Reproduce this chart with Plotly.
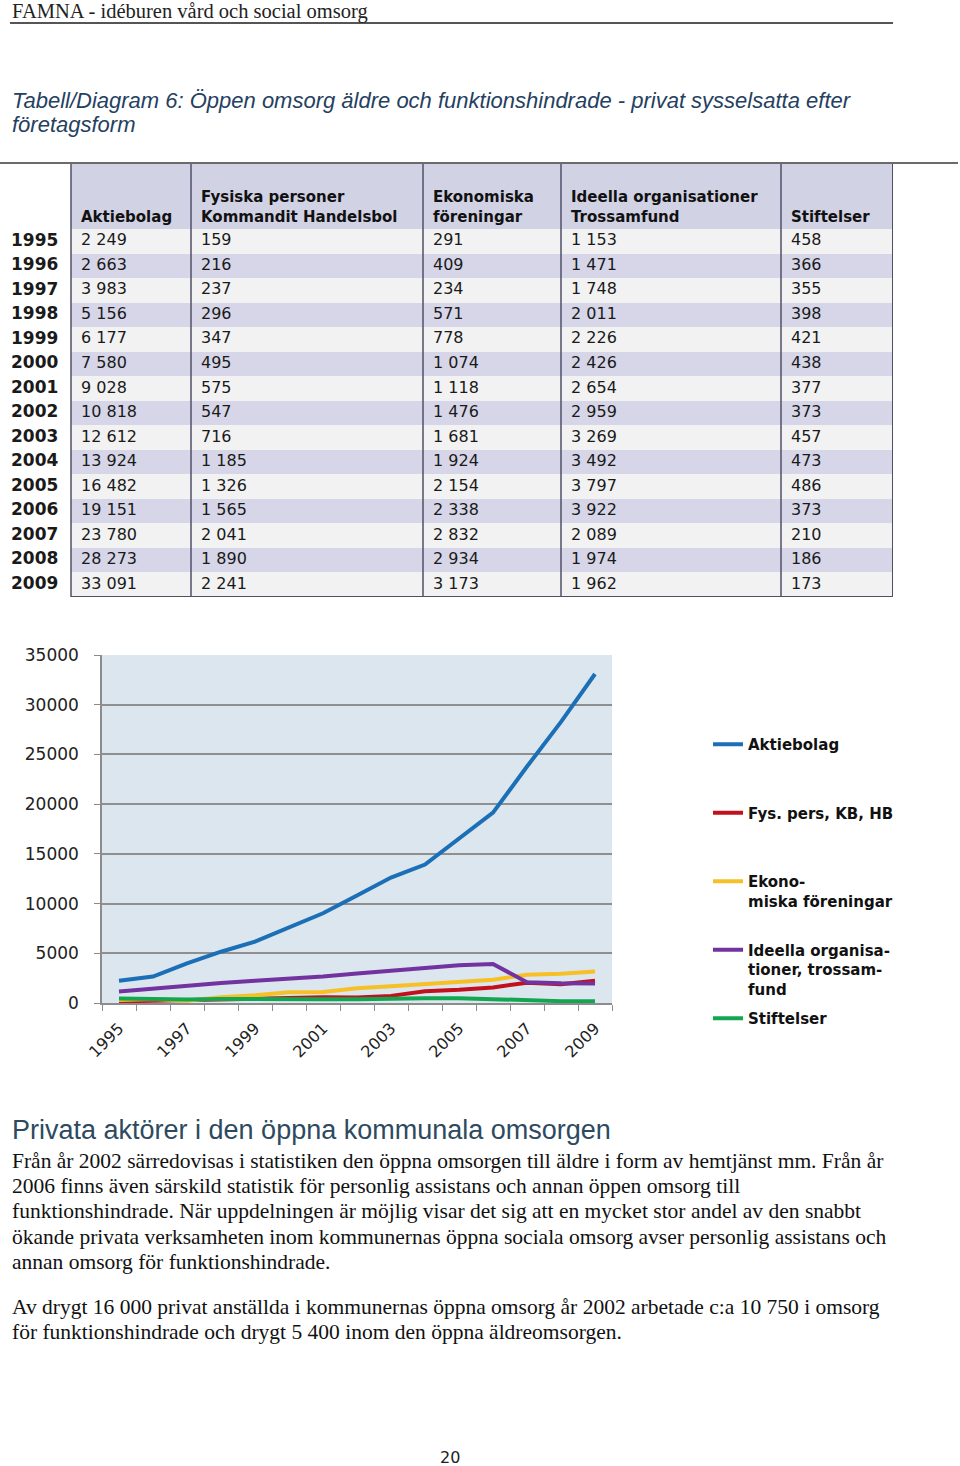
import plotly.graph_objects as go

# ---------------- data ----------------
years = ["1995", "1996", "1997", "1998", "1999", "2000", "2001", "2002",
         "2003", "2004", "2005", "2006", "2007", "2008", "2009"]
aktiebolag = [2249, 2663, 3983, 5156, 6177, 7580, 9028, 10818, 12612, 13924,
              16482, 19151, 23780, 28273, 33091]
fysiska = [159, 216, 237, 296, 347, 495, 575, 547, 716, 1185, 1326, 1565,
           2041, 1890, 2241]
ekonomiska = [291, 409, 234, 571, 778, 1074, 1118, 1476, 1681, 1924, 2154,
              2338, 2832, 2934, 3173]
ideella = [1153, 1471, 1748, 2011, 2226, 2426, 2654, 2959, 3269, 3492, 3797,
           3922, 2089, 1974, 1962]
stiftelser = [458, 366, 355, 398, 421, 438, 377, 373, 457, 473, 486, 373,
              210, 186, 173]

table_headers = ["", "Aktiebolag", "Fysiska personer<br>Kommandit Handelsbol",
                 "Ekonomiska<br>föreningar",
                 "Ideella organisationer<br>Trossamfund", "Stiftelser"]
legend_names = ["Aktiebolag", "Fys. pers, KB, HB",
                "Ekono-<br>miska föreningar",
                "Ideella organisa-<br>tioner, trossam-<br>fund",
                "Stiftelser"]
series = [aktiebolag, fysiska, ekonomiska, ideella, stiftelser]
colors = ["#1a6fb6", "#c0111c", "#f6c026", "#7232a0", "#12a650"]
x_labels = ["1995", "", "1997", "", "1999", "", "2001", "", "2003", "",
            "2005", "", "2007", "", "2009"]

W, H = 960, 1466


def px(x):
    return x / W


def py(y):
    return 1 - y / H


def fmt(v):
    return f"{v:,}".replace(",", " ")


fig = go.Figure()

# ---------------- table (heatmap fills + text on its own axes) ----------------
col_px = [66, 120, 232, 138, 220, 112]
tbl_left, tbl_top, tbl_bottom = 5, 163, 597
row_h, head_h = 24.5, 66
hdr_rows = head_h / row_h
n = len(years)

col_edges = [tbl_left]
for w in col_px:
    col_edges.append(col_edges[-1] + w)
row_edges = [-0.5 - hdr_rows] + [i - 0.5 for i in range(n + 1)]

# fill codes: 0 white, 1 light row, 2 lavender row, 3 header
z = [[0] + [3] * 5]
for i in range(n):
    z.append([0] + [1 + (i % 2)] * 5)
fill_scale = [[0, "white"], [0.17, "white"], [0.17, "#f2f2f3"], [0.5, "#f2f2f3"],
              [0.5, "#d6d6e8"], [0.83, "#d6d6e8"], [0.83, "#d2d2e5"], [1, "#d2d2e5"]]
fig.add_trace(go.Heatmap(x=col_edges, y=row_edges, z=z, zmin=0, zmax=3,
                         colorscale=fill_scale, showscale=False,
                         hoverinfo="skip", xaxis="x2", yaxis="y2"))

cols = [["<b>" + y + "</b>" for y in years]] + [[fmt(v) for v in s] for s in series]
rows_idx = list(range(n))
for j, vals in enumerate(cols):
    pad = 6 if j == 0 else 10
    fig.add_trace(go.Scatter(
        x=[col_edges[j] + pad] * n, y=rows_idx, text=vals, mode="text",
        textposition="middle right", hoverinfo="skip", showlegend=False,
        textfont=dict(family="DejaVu Sans", size=17 if j == 0 else 16,
                      color="#1a1a1a"),
        xaxis="x2", yaxis="y2"))

ann = []
for j, h in enumerate(table_headers):
    if not h:
        continue
    ann.append(dict(xref="x2", yref="y2", x=col_edges[j] + 8, y=-0.5,
                    text="<b>" + h + "</b>", showarrow=False, xanchor="left",
                    yanchor="bottom", align="left", yshift=1,
                    font=dict(family="DejaVu Sans", size=15, color="#111")))

shapes = []
border = "#4f4f68"
for i, b in enumerate(col_edges[1:]):
    shapes.append(dict(type="line", xref="x2", yref="y2", x0=b, x1=b,
                       y0=row_edges[0], y1=row_edges[-1],
                       line=dict(color=border, width=2 if i == len(col_px) - 1 else 1.5)))
shapes.append(dict(type="line", xref="x2", yref="y2", x0=col_edges[1], x1=col_edges[-1],
                   y0=row_edges[-1], y1=row_edges[-1], line=dict(color=border, width=2)))
# top rule across the page
shapes.append(dict(type="line", xref="paper", yref="paper",
                   x0=0, x1=px(958), y0=py(163), y1=py(163),
                   line=dict(color="#6b6b6b", width=2)))
# header rule
shapes.append(dict(type="line", xref="paper", yref="paper",
                   x0=px(10), x1=px(893), y0=py(23), y1=py(23),
                   line=dict(color="#555", width=2)))

# ---------------- chart ----------------
for name, s, c in zip(legend_names, series, colors):
    k = name.count("<br>") + 1
    padded = name + "<br> " * (3 - k)
    fig.add_trace(go.Scatter(x=years, y=s, mode="lines", name=padded,
                             legendgroup=name, hoverinfo="skip",
                             line=dict(color=c, width=4)))

fig.update_layout(
    width=W, height=H,
    margin=dict(l=0, r=0, t=0, b=0, autoexpand=False),
    paper_bgcolor="white",
    plot_bgcolor="#dce6ee",
    shapes=shapes,
    xaxis=dict(domain=[px(102), px(612)], type="category",
               range=[-0.5, 14.5], tickmode="array", tickvals=years,
               ticktext=x_labels, tickangle=-45, tickson="boundaries",
               ticks="outside", ticklen=6, tickcolor="#8c8c8c",
               showgrid=False, showline=True, linecolor="#8c8c8c",
               linewidth=1.5, zeroline=False, anchor="y",
               ticklabelstandoff=8,
               tickfont=dict(family="DejaVu Sans", size=16, color="#222")),
    yaxis=dict(domain=[py(1003), py(655)], range=[0, 35000], dtick=5000,
               tickformat="d", anchor="x",
               ticks="outside", ticklen=6, tickcolor="#8c8c8c",
               showgrid=True, gridcolor="#8f8f8f", gridwidth=1.5,
               showline=True, linecolor="#8c8c8c", linewidth=1.5,
               zeroline=False, ticklabelstandoff=12,
               tickfont=dict(family="DejaVu Sans", size=17, color="#222")),
    xaxis2=dict(domain=[px(col_edges[0]), px(col_edges[-1])],
                range=[col_edges[0], col_edges[-1]], visible=False, anchor="y2",
                fixedrange=True),
    yaxis2=dict(domain=[py(tbl_bottom), py(tbl_top)],
                range=[row_edges[-1], row_edges[0]], visible=False,
                anchor="x2", fixedrange=True),
    legend=dict(x=px(708), y=py(728), xanchor="left", yanchor="top",
                valign="top", tracegroupgap=7,
                bgcolor="rgba(0,0,0,0)",
                font=dict(family="DejaVu Sans", size=15, color="#111",
                          weight="bold")),
    showlegend=True,
)


# ---------------- page text ----------------
def text(x, y, t, size, family, color="#111", xanchor="left"):
    ann.append(dict(xref="paper", yref="paper", x=px(x), y=py(y), text=t,
                    showarrow=False, xanchor=xanchor, yanchor="middle",
                    font=dict(family=family, size=size, color=color)))


text(10, 12, "FAMNA - idéburen vård och social omsorg", 20.5, "Liberation Serif", "#222")
text(10, 100, "<i>Tabell/Diagram 6: Öppen omsorg äldre och funktionshindrade - privat sysselsatta efter</i>",
     22, "Liberation Sans", "#254060")
text(10, 125, "<i>företagsform</i>", 22, "Liberation Sans", "#254060")
text(10, 1130, "Privata aktörer i den öppna kommunala omsorgen", 27, "Liberation Sans", "#2d4a60")
body = [
    (1161, "Från år 2002 särredovisas i statistiken den öppna omsorgen till äldre i form av hemtjänst mm. Från år"),
    (1186, "2006 finns även särskild statistik för personlig assistans och annan öppen omsorg till"),
    (1211, "funktionshindrade. När uppdelningen är möjlig visar det sig att en mycket stor andel av den snabbt"),
    (1237, "ökande privata verksamheten inom kommunernas öppna sociala omsorg avser personlig assistans och"),
    (1262, "annan omsorg för funktionshindrade."),
    (1307, "Av drygt 16 000 privat anställda i kommunernas öppna omsorg år 2002 arbetade c:a 10 750 i omsorg"),
    (1332, "för funktionshindrade och drygt 5 400 inom den öppna äldreomsorgen."),
]
for y, t in body:
    text(10, y, t, 21.5, "Liberation Serif", "#111")
text(450, 1457, "20", 16, "DejaVu Sans", "#222", xanchor="center")

fig.update_layout(annotations=ann)

fig.write_html("out.html", config={"displayModeBar": False},
               post_script="document.body.style.margin='0';")
